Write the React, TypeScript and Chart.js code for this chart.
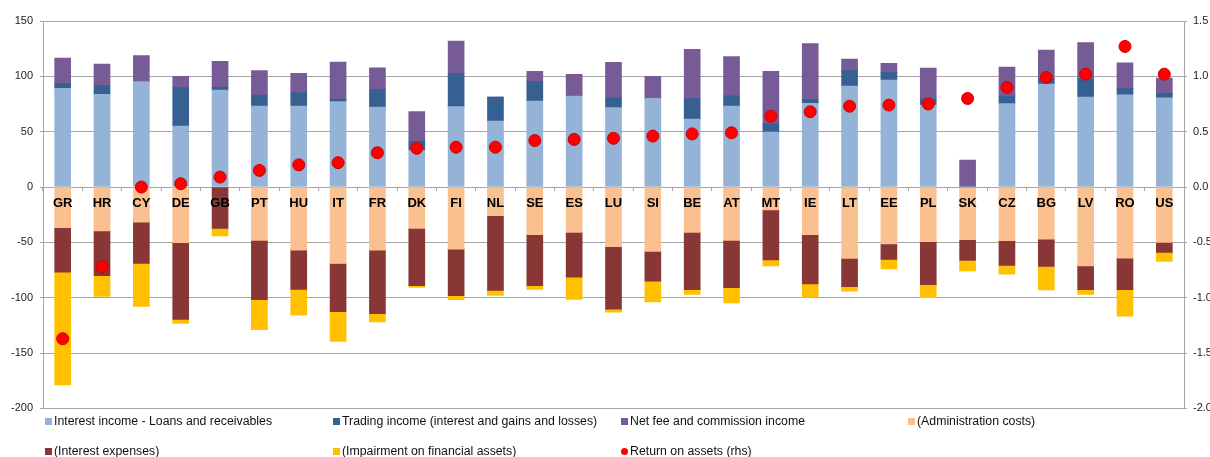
import React, { useEffect, useRef } from "react";
import { Chart, registerables } from "chart.js";

Chart.register(...registerables);

const countries = ["GR","HR","CY","DE","GB","PT","HU","IT","FR","DK","FI","NL","SE","ES","LU","SI","BE","AT","MT","IE","LT","EE","PL","SK","CZ","BG","LV","RO","US"];

const interestIncome = [89.2,83.7,95.2,55.1,87.6,73.2,73.2,77.1,72.3,33.1,72.6,59.6,77.7,82.2,71.7,80.1,61.4,73.2,49.7,75.6,91.3,96.7,74.1,0,75.3,93.1,81.3,83.4,80.7];
const tradingIncome = [4.2,7.9,0,34.7,2.5,9.9,12,2.4,15.7,8.5,29.8,21.7,17.5,0,9,0,18.4,9.3,7.5,3.3,13.8,6.6,5.4,0,6.9,4.8,16.6,5.5,3.9];
const netFee = [23.2,19.5,23.5,10.2,23.5,22,17.5,33.4,19.8,26.5,29.5,0,9.3,19.6,31.9,19.9,44.6,35.3,47.3,50.6,10.6,8.4,28,24.4,26.2,25.9,32.5,23.4,13.9];
const adminCosts = [-36.7,-39.7,-31.8,-50.3,0,-48.2,-57,-69.1,-57,-37.3,-56.1,-25.8,-43,-40.9,-53.9,-58.2,-40.9,-48.2,-20.6,-43,-64.5,-51.5,-49.4,-47.6,-48.5,-47,-71.2,-64.2,-50];
const interestExpenses = [-40.3,-40.3,-37.3,-69.4,-37.3,-53.6,-35.4,-43.6,-57.5,-51.8,-42.1,-67.5,-46.1,-40.6,-56.4,-26.9,-51.8,-42.7,-45.2,-44.6,-25.5,-13.9,-38.8,-18.8,-22.4,-24.8,-21.5,-28.5,-9.1];
const impairment = [-101.8,-18.8,-38.8,-3.6,-6.9,-27,-23.3,-26.7,-7.3,-1.5,-3.6,-4.6,-3.3,-20,-2.7,-18.8,-4.3,-13.9,-5.4,-11.8,-4.2,-8.5,-11.8,-9.4,-7.9,-21.2,-4.3,-24,-8.2];
const returnOnAssets = [-1.37,-0.72,0.0,0.03,0.09,0.15,0.2,0.22,0.31,0.35,0.36,0.36,0.42,0.43,0.44,0.46,0.48,0.49,0.64,0.68,0.73,0.74,0.75,0.8,0.9,0.99,1.02,1.27,1.02];

const leftTicks = { min: -200, max: 150, step: 50 };
const rightTicks = { min: -2, max: 1.5, step: 0.5 };

const C = {
  lightBlue: "#95B3D7",
  darkBlue: "#366092",
  purple: "#775B97",
  peach: "#FAC090",
  darkRed: "#893636",
  yellow: "#FFC000",
  red: "#FF0000",
};

const legendItems = [
  { label: "Interest income - Loans and receivables", color: C.lightBlue, x: 45, row: 0, dot: false },
  { label: "Trading income (interest and gains and losses)", color: C.darkBlue, x: 333, row: 0, dot: false },
  { label: "Net fee and commission income", color: C.purple, x: 621, row: 0, dot: false },
  { label: "(Administration costs)", color: C.peach, x: 908, row: 0, dot: false },
  { label: "(Interest expenses)", color: C.darkRed, x: 45, row: 1, dot: false },
  { label: "(Impairment on financial assets)", color: C.yellow, x: 333, row: 1, dot: false },
  { label: "Return on assets (rhs)", color: C.red, x: 621, row: 1, dot: true },
];

const FONT = "'Liberation Sans', Arial, sans-serif";

export default function App() {
  const ref = useRef<HTMLCanvasElement | null>(null);

  useEffect(() => {
    if (!ref.current) return;
    Chart.defaults.font.family = FONT;
    const barCommon = { type: "bar" as const, stack: "s", barThickness: 16, borderWidth: 0, order: 2, yAxisID: "y" };
    const chart = new Chart(ref.current, {
      type: "bar",
      data: {
        labels: countries,
        datasets: [
          { ...barCommon, label: "Interest income - Loans and receivables", data: interestIncome, backgroundColor: C.lightBlue },
          { ...barCommon, label: "Trading income (interest and gains and losses)", data: tradingIncome, backgroundColor: C.darkBlue },
          { ...barCommon, label: "Net fee and commission income", data: netFee, backgroundColor: C.purple },
          { ...barCommon, label: "(Administration costs)", data: adminCosts, backgroundColor: C.peach },
          { ...barCommon, label: "(Interest expenses)", data: interestExpenses, backgroundColor: C.darkRed },
          { ...barCommon, label: "(Impairment on financial assets)", data: impairment, backgroundColor: C.yellow },
          {
            type: "line" as const,
            label: "Return on assets (rhs)",
            data: returnOnAssets,
            yAxisID: "y1",
            showLine: false,
            pointRadius: 6,
            pointBackgroundColor: C.red,
            pointBorderColor: "#D00000",
            pointBorderWidth: 1,
            order: 0,
          } as any,
        ],
      },
      options: {
        animation: false,
        responsive: false,
        maintainAspectRatio: false,
        layout: { padding: { top: 21, bottom: 0, left: 0, right: 0 } },
        plugins: { legend: { display: false }, tooltip: { enabled: false } },
        scales: {
          x: {
            stacked: true,
            position: { y: 0 } as any,
            grid: { display: true, drawOnChartArea: false, drawTicks: true, tickLength: 4, color: "#A6A6A6", offset: true },
            border: { display: false },
            ticks: { z: 1, font: { size: 13, weight: "bold", family: FONT }, color: "#000", padding: 5, maxRotation: 0, autoSkip: false },
          },
          y: {
            stacked: true,
            position: "left",
            min: leftTicks.min,
            max: leftTicks.max,
            afterFit: (s: any) => { s.width = 43; },
            ticks: { stepSize: leftTicks.step, font: { size: 11, family: FONT }, color: "#222", padding: 7 },
            grid: { color: "#A6A6A6", tickLength: 3 },
            border: { display: true, color: "#A6A6A6" },
          },
          y1: {
            position: "right",
            min: rightTicks.min,
            max: rightTicks.max,
            afterFit: (s: any) => { s.width = 26; },
            ticks: { stepSize: rightTicks.step, font: { size: 11, family: FONT }, color: "#222", padding: 6, callback: (v: any) => Number(v).toFixed(1) },
            grid: { drawOnChartArea: false, color: "#A6A6A6", tickLength: 3 },
            border: { display: true, color: "#A6A6A6" },
          },
        },
      } as any,
    });
    return () => chart.destroy();
  }, []);

  return (
    <div style={{ position: "fixed", left: 0, top: 0, width: 1210, height: 457, background: "#fff", fontFamily: FONT }}>
      <canvas ref={ref} width={1210} height={422} style={{ position: "absolute", left: 0, top: 0, width: 1210, height: 422 }} />
      {legendItems.map((it) => (
        <div
          key={it.label}
          style={{
            position: "absolute",
            left: it.x,
            top: it.row === 0 ? 413 : 443,
            height: 16,
            display: "flex",
            alignItems: "center",
            fontSize: 12.3,
            color: "#111",
            whiteSpace: "nowrap",
          }}
        >
          <span
            style={{
              display: "inline-block",
              width: 7,
              height: 7,
              background: it.color,
              borderRadius: it.dot ? "50%" : 0,
              marginRight: 2,
            }}
          />
          <span>{it.label}</span>
        </div>
      ))}
    </div>
  );
}
